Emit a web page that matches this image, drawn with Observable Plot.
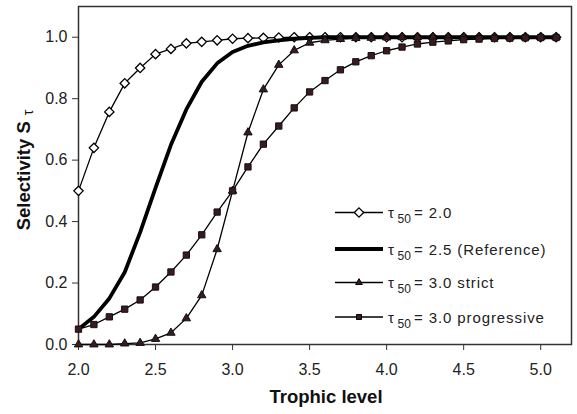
<!DOCTYPE html>
<html><head><meta charset="utf-8">
<script src="https://cdn.jsdelivr.net/npm/d3@7"></script>
<script src="https://cdn.jsdelivr.net/npm/@observablehq/plot@0.6"></script>
<style>
body{margin:0;background:#fff}
#chart{width:577px;height:414px}
</style>
</head><body><div id="chart"></div>
<script>
// Trophic levels (x values)
const trophicLevel = [2.0,2.1,2.2,2.3,2.4,2.5,2.6,2.7,2.8,2.9,3.0,3.1,3.2,3.3,3.4,3.5,3.6,3.7,3.8,3.9,4.0,4.1,4.2,4.3,4.4,4.5,4.6,4.7,4.8,4.9,5.0,5.1];
// Series values (selectivity)
const tau20 = [0.50,0.64,0.757,0.85,0.90,0.945,0.962,0.98,0.985,0.99,0.995,0.997,0.998,0.999,1.0,1.0,1.0,1.0,1.0,1.0,1.0,1.0,1.0,1.0,1.0,1.0,1.0,1.0,1.0,1.0,1.0,1.0];
const tau25 = [0.05,0.09,0.15,0.235,0.365,0.51,0.65,0.765,0.855,0.915,0.952,0.972,0.983,0.99,0.995,0.998,1.0,1.0,1.0,1.0,1.0,1.0,1.0,1.0,1.0,1.0,1.0,1.0,1.0,1.0,1.0,1.0];
const tau30strict = [0.0,0.0,0.0,0.003,0.005,0.018,0.038,0.085,0.16,0.31,0.5,0.69,0.83,0.91,0.957,0.982,0.99,0.994,0.997,0.998,0.999,1.0,1.0,1.0,1.0,1.0,1.0,1.0,1.0,1.0,1.0,1.0];
const tau30progressive = [0.05,0.065,0.09,0.115,0.145,0.187,0.236,0.291,0.357,0.431,0.5,0.578,0.652,0.711,0.77,0.822,0.859,0.894,0.92,0.94,0.956,0.968,0.978,0.984,0.988,0.992,0.994,0.996,0.997,0.998,0.999,0.999];
// Tick labels
const xTicks = [2.0,2.5,3.0,3.5,4.0,4.5,5.0];
const yTicks = [0.0,0.2,0.4,0.6,0.8,1.0];
// Legend labels
const legendValues = ["= 2.0","= 2.5 (Reference)","= 3.0 strict","= 3.0 progressive"];
const xTitle = "Trophic level";
const yTitle = "Selectivity S";

const toRows = vals => trophicLevel.map((t, i) => ({x: t, y: vals[i]}));
const d20 = toRows(tau20), d25 = toRows(tau25), dStrict = toRows(tau30strict), dProg = toRows(tau30progressive);

const markerFill = "#3b1a1e";
const font = "'Liberation Sans', Arial, sans-serif";

const svg = Plot.plot({
  width: 577, height: 414,
  marginLeft: 78, marginRight: 6, marginTop: 6, marginBottom: 70,
  style: {fontFamily: font, fontSize: "16px", color: "#222", background: "#fff"},
  x: {domain: [2, 5.2]},
  y: {domain: [0, 1.1]},
  marks: [
    Plot.axisX({ticks: xTicks, tickFormat: d3.format(".1f"), tickSize: 6, tickPadding: 13, label: null, stroke: "#333"}),
    Plot.axisY({ticks: yTicks, tickFormat: d3.format(".1f"), tickSize: 6, tickPadding: 5, label: null, stroke: "#333"}),
    Plot.frame({stroke: "#333", strokeWidth: 1.5}),
    Plot.line(d20, {x: "x", y: "y", stroke: "#000", strokeWidth: 1.3}),
    Plot.dot(d20, {x: "x", y: "y", symbol: "diamond2", r: 4.2, fill: "#fff", stroke: "#000", strokeWidth: 1.3}),
    Plot.line(d25, {x: "x", y: "y", stroke: "#000", strokeWidth: 3.8}),
    Plot.line(dStrict, {x: "x", y: "y", stroke: "#000", strokeWidth: 1.3}),
    Plot.dot(dStrict, {x: "x", y: "y", symbol: "triangle2", r: 4, fill: markerFill, stroke: "#111", strokeWidth: 1}),
    Plot.line(dProg, {x: "x", y: "y", stroke: "#000", strokeWidth: 1.3}),
    Plot.dot(dProg, {x: "x", y: "y", symbol: "square2", r: 4, fill: markerFill, stroke: "#111", strokeWidth: 1})
  ]
});

const s = d3.select(svg);
// Axis titles
s.append("text")
  .attr("x", 326).attr("y", 403)
  .attr("text-anchor", "middle")
  .attr("font-family", font)
  .attr("font-weight", "bold").attr("font-size", 18.5).attr("fill", "#111")
  .text(xTitle);
const yt = s.append("text")
  .attr("transform", "translate(30,170) rotate(-90)")
  .attr("text-anchor", "middle")
  .attr("font-family", font)
  .attr("fill", "#111");
yt.append("tspan").attr("font-weight", "bold").attr("font-size", 18.5).text(yTitle);
yt.append("tspan").attr("font-size", 14).attr("dx", 6).attr("dy", 2.5).text("τ");

// Legend
const rowsY = [212.5, 249, 282.5, 317];
const symbols = [d3.symbolDiamond2, null, d3.symbolTriangle2, d3.symbolSquare2];
const legend = s.append("g").attr("font-family", font).attr("fill", "#222").attr("text-anchor", "start");
legendValues.forEach((lab, i) => {
  const y = rowsY[i];
  legend.append("line").attr("x1", 335).attr("x2", 383).attr("y1", y).attr("y2", y)
    .attr("stroke", "#000").attr("stroke-width", i === 1 ? 3.8 : 1.3);
  if (symbols[i]) {
    const r = i === 0 ? 4.2 : 3.2;
    legend.append("path")
      .attr("transform", `translate(359,${y})`)
      .attr("d", d3.symbol().type(symbols[i]).size(Math.PI * r * r)())
      .attr("fill", i === 0 ? "#fff" : markerFill)
      .attr("stroke", "#000").attr("stroke-width", i === 0 ? 1.3 : 1);
  }
  legend.append("text").attr("x", 388).attr("y", y + 5.5).attr("font-size", 15).text("τ");
  legend.append("text").attr("x", 397.5).attr("y", y + 10.5).attr("font-size", 12).text("50");
  legend.append("text").attr("x", 414).attr("y", y + 5.5).attr("font-size", 15)
    .attr("letter-spacing", 0.9).text(lab);
});

document.getElementById("chart").appendChild(svg);
</script>
</body></html>
